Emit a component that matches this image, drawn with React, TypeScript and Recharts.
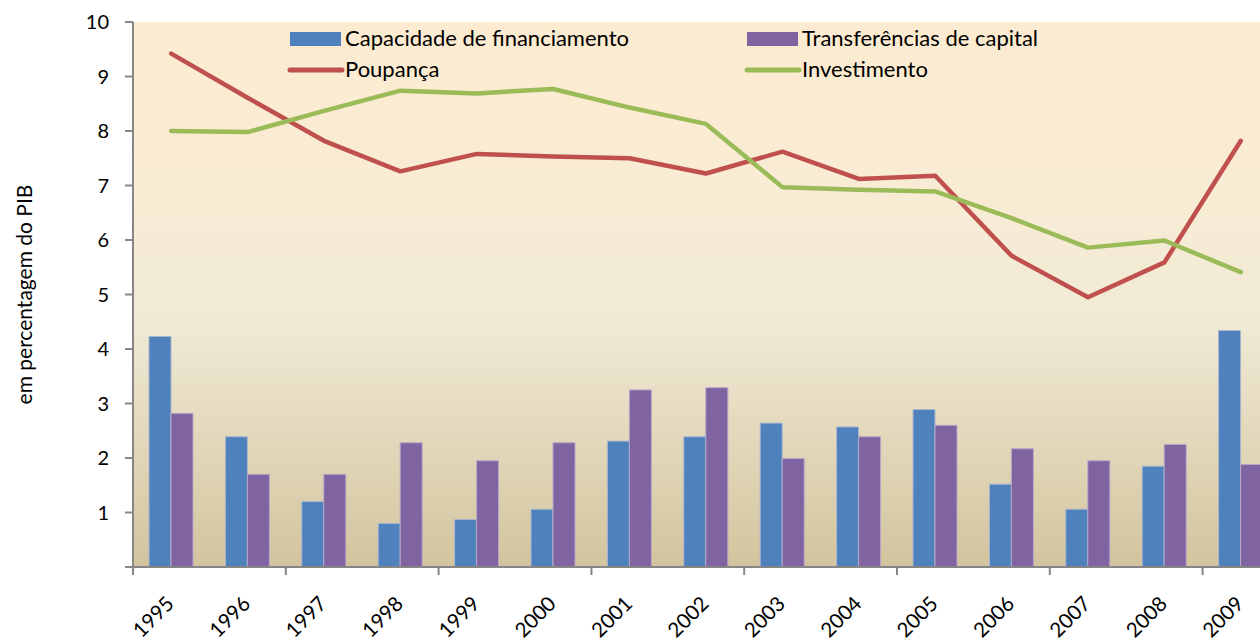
import React from 'react';
import { ComposedChart, Bar, Line, XAxis, YAxis, Legend, CartesianGrid } from 'recharts';

const years = ['1995', '1996', '1997', '1998', '1999', '2000', '2001', '2002', '2003', '2004', '2005', '2006', '2007', '2008', '2009'];
const capacidade = [4.23, 2.39, 1.2, 0.8, 0.87, 1.06, 2.31, 2.39, 2.64, 2.57, 2.89, 1.52, 1.06, 1.85, 4.34];
const transferencias = [2.82, 1.7, 1.7, 2.28, 1.95, 2.28, 3.25, 3.29, 1.99, 2.39, 2.6, 2.17, 1.95, 2.25, 1.88];
const poupanca = [9.42, 8.61, 7.82, 7.26, 7.58, 7.53, 7.5, 7.22, 7.62, 7.12, 7.18, 5.71, 4.95, 5.59, 7.82];
const investimento = [8.0, 7.98, 8.37, 8.74, 8.69, 8.77, 8.43, 8.13, 6.97, 6.92, 6.89, 6.4, 5.86, 5.99, 5.41];
const yTicks = [0, 1, 2, 3, 4, 5, 6, 7, 8, 9, 10];

const seriesNames = ['Capacidade de financiamento', 'Transferências de capital', 'Poupança', 'Investimento'];
const seriesColors = ['#4F81BD', '#8064A2', '#C0504D', '#9BBB59'];
const seriesKinds = ['bar', 'bar', 'line', 'line'];
const yLabel = 'em percentagem do PIB';

const data = years.map((y, i) => ({
  year: y,
  cap: capacidade[i],
  trans: transferencias[i],
  poup: poupanca[i],
  inv: investimento[i],
}));

const FONT = 'Lato, "Open Sans", sans-serif';

const XTick = (props: any) => {
  const { x, y, payload, index } = props;
  const half = payload && typeof payload.offset === 'number' ? payload.offset : 38.2;
  const i = payload && typeof payload.index === 'number' ? payload.index : index;
  return (
    <g>
      {i % 2 === 0 && (
        <line x1={x - half} x2={x - half} y1={y} y2={y + 8} stroke="#868686" strokeWidth={2} />
      )}
      <text
        transform={`translate(${x + 4},${y + 38}) rotate(-45)`}
        textAnchor="end"
        fontSize={20.5}
        fill="#000"
        fontFamily={FONT}
      >
        {payload.value}
      </text>
    </g>
  );
};

const LegendContent = () => {
  const colX = [10, 467];
  const rowY = [0, 31];
  return (
    <svg width={900} height={70} style={{ overflow: 'visible' }}>
      {seriesNames.map((name, i) => {
        const cx = colX[i % 2];
        const ry = rowY[Math.floor(i / 2)];
        return (
          <g key={name}>
            {seriesKinds[i] === 'bar' ? (
              <rect x={cx} y={ry + 10} width={51} height={14} fill={seriesColors[i]} />
            ) : (
              <line x1={cx} x2={cx + 52} y1={ry + 17} y2={ry + 17} stroke={seriesColors[i]} strokeWidth={5} strokeLinecap="round" />
            )}
            <text x={cx + 55} y={ry + 24} fontSize={22} fill="#000" fontFamily={FONT}>
              {name}
            </text>
          </g>
        );
      })}
    </svg>
  );
};

export default function App() {
  return (
    <div style={{ position: 'absolute', left: 0, top: 0, width: 1260, height: 641, overflow: 'hidden', background: '#fff', fontFamily: FONT }}>
      <ComposedChart
        width={1290}
        height={641}
        data={data}
        margin={{ top: 22, right: 11, bottom: 0, left: 0 }}
        barGap={0}
        barCategoryGap="21%"
      >
        <defs>
          <linearGradient id="bgGrad" x1="0" y1="0" x2="0" y2="1">
            <stop offset="0%" stopColor="#FCEBD0" />
            <stop offset="30%" stopColor="#F9ECD4" />
            <stop offset="55%" stopColor="#F0EAD5" />
            <stop offset="100%" stopColor="#D3C49E" />
          </linearGradient>
        </defs>
        <CartesianGrid horizontal={false} vertical={false} fill="url(#bgGrad)" stroke="none" />
        <XAxis
          dataKey="year"
          height={74}
          interval={0}
          tickSize={0}
          tickMargin={0}
          tickLine={false}
          axisLine={{ stroke: '#868686', strokeWidth: 2 }}
          tick={<XTick />}
        />
        <YAxis
          width={133}
          domain={[0, 10]}
          ticks={yTicks}
          interval={0}
          tickSize={8}
          tickMargin={16}
          tickFormatter={(v: number) => (v === 0 ? '' : String(v))}
          axisLine={{ stroke: '#868686', strokeWidth: 2 }}
          tickLine={{ stroke: '#868686', strokeWidth: 2 }}
          tick={{ fontSize: 20, fill: '#000', fontFamily: FONT }}
          label={{ value: yLabel, angle: -90, position: 'insideLeft', dx: 20, dy: 0, style: { textAnchor: 'middle', fontSize: 21, fill: '#000', fontFamily: FONT } }}
        />
        <Legend
          layout="horizontal"
          verticalAlign="middle"
          align="center"
          content={<LegendContent />}
          wrapperStyle={{ left: 280, top: 22, width: 900, height: 70 }}
        />
        <Bar dataKey="cap" name={seriesNames[0]} fill={seriesColors[0]} stroke="#A9B6CF" strokeWidth={1} barSize={22} isAnimationActive={false} />
        <Bar dataKey="trans" name={seriesNames[1]} fill={seriesColors[1]} stroke="#B5A9C9" strokeWidth={1} barSize={22} isAnimationActive={false} />
        <Line dataKey="poup" name={seriesNames[2]} type="linear" stroke={seriesColors[2]} strokeWidth={4.5} dot={false} activeDot={false} strokeLinecap="round" strokeLinejoin="round" isAnimationActive={false} />
        <Line dataKey="inv" name={seriesNames[3]} type="linear" stroke={seriesColors[3]} strokeWidth={4.5} dot={false} activeDot={false} strokeLinecap="round" strokeLinejoin="round" isAnimationActive={false} />
      </ComposedChart>
    </div>
  );
}
